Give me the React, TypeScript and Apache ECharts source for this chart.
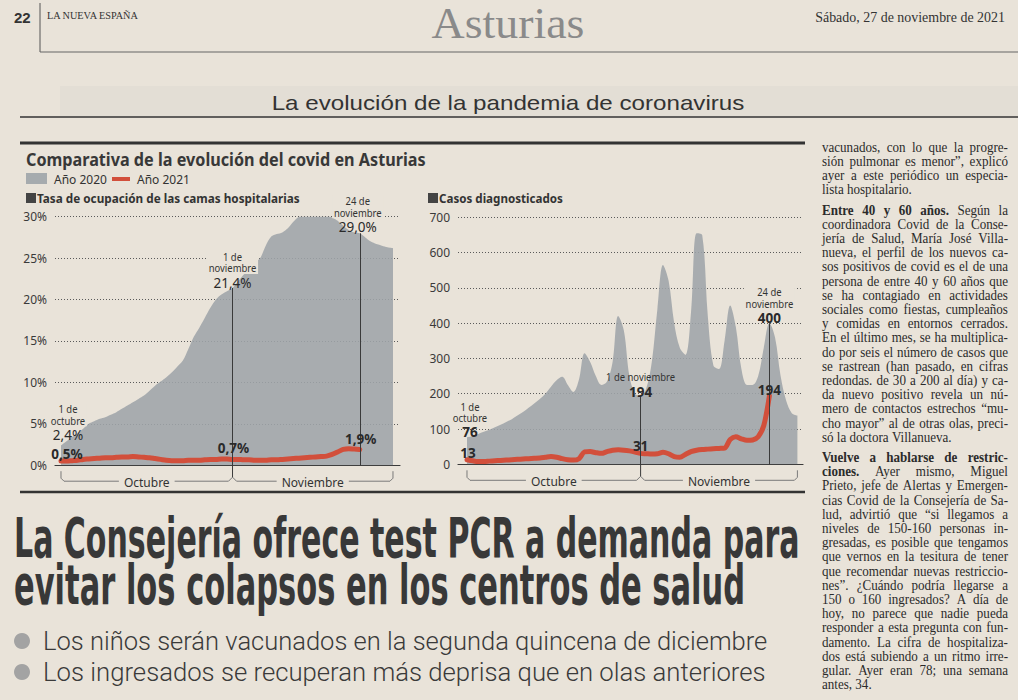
import React, { useEffect, useRef } from "react";
import * as echarts from "echarts";

// ---------------- DATA ----------------
// Hospital bed occupancy (%), daily from 1 Oct (index 0) — 2020
const hosp2020 = [
  2.4, 2.9, 3.4, 3.9, 4.4, 5.0, 5.3, 5.6, 5.8, 6.1,
  6.4, 6.8, 7.2, 7.6, 8.0, 8.4, 9.0, 9.6, 10.1, 10.6,
  11.2, 11.9, 12.6, 14.0, 15.5, 16.6, 17.8, 19.0, 20.0, 20.6,
  21.0, 21.4, 22.2, 23.0, 23.7, 24.4, 25.0, 26.5, 27.6, 27.9,
  28.1, 28.6, 29.4, 30.0, 30.3, 30.5, 30.5, 30.4, 30.2, 29.9,
  29.5, 28.9, 28.4, 28.1, 28.0, 27.5, 27.0, 26.7, 26.5, 26.3,
  26.2,
];
// Hospital bed occupancy (%) — 2021 (1 Oct – 24 Nov)
const hosp2021 = [
  0.5, 0.5, 0.55, 0.6, 0.7, 0.75, 0.8, 0.85, 0.9, 0.9,
  0.95, 1.0, 1.0, 1.05, 1.0, 0.95, 0.9, 0.8, 0.7, 0.6,
  0.55, 0.55, 0.55, 0.6, 0.6, 0.6, 0.65, 0.7, 0.7, 0.75,
  0.75, 0.7, 0.7, 0.65, 0.65, 0.6, 0.6, 0.6, 0.65, 0.65,
  0.7, 0.75, 0.8, 0.85, 0.9, 0.95, 1.0, 1.05, 1.1, 1.3,
  1.6, 1.9, 2.0, 1.95, 1.9,
];
// Diagnosed cases — 2020 (1 Oct – 29 Nov)
const cases2020 = [
  76, 80, 86, 92, 98, 105, 112, 120, 128, 138,
  148, 160, 172, 185, 200, 220, 238, 248, 225, 205,
  240, 315, 290, 250, 225, 235, 290, 420, 380, 250,
  200, 194, 215, 290, 440, 565, 520, 400, 330, 310,
  430, 655, 650, 420, 280, 270, 350, 450, 390, 270,
  225, 225, 250, 330, 400, 360, 250, 180, 145, 138,
];
// Diagnosed cases — 2021 (1 Oct – 24 Nov)
const cases2021 = [
  13, 10, 8, 8, 9, 10, 11, 12, 13, 14,
  15, 16, 17, 18, 20, 22, 20, 16, 13, 12,
  16, 35, 36, 33, 31, 36, 40, 41, 40, 38,
  35, 31, 30, 29, 30, 34, 30, 22, 20, 28,
  36, 40, 42, 43, 44, 45, 46, 70, 78, 72,
  68, 69, 78, 110, 194,
];
const monthNames = ["Octubre", "Noviembre"];
const monthStartIdx = [0, 31];
const legendNames = ["Año 2020", "Año 2021"];
const hospTicks = { min: 0, max: 30, step: 5 };
const caseTicks = { min: 0, max: 700, step: 100 };

const hospNotes = [
  { day: 0, head: "1 de\noctubre", v2020: "2,4%", v2021: "0,5%" },
  { day: 31, head: "1 de\nnoviembre", v2020: "21,4%", v2021: "0,7%" },
  { day: 54, head: "24 de\nnoviembre", v2020: "29,0%", v2021: "1,9%" },
];
const caseNotes = [
  { day: 0, head: "1 de\noctubre", v2020: "76", v2021: "13" },
  { day: 31, head: "1 de noviembre", v2020: "194", v2021: "31" },
  { day: 54, head: "24 de\nnoviembre", v2020: "400", v2021: "194" },
];

const pageTitle = "Asturias";
const paperName = "LA NUEVA ESPAÑA";
const pageNo = "22";
const pageDate = "Sábado, 27 de noviembre de 2021";
const sectionTitle = "La evolución de la pandemia de coronavirus";
const chartTitle = "Comparativa de la evolución del covid en Asturias";
const panelTitles = ["Tasa de ocupación de las camas hospitalarias", "Casos diagnosticados"];
const headline = [
  "La Consejería ofrece test PCR a demanda para",
  "evitar los colapsos en los centros de salud",
];
const bullets = [
  "Los niños serán vacunados en la segunda quincena de diciembre",
  "Los ingresados se recuperan más deprisa que en olas anteriores",
];
const columnParas = [
  [
    "vacunados, con lo que la progre-",
    "sión pulmonar es menor”, explicó",
    "ayer a este periódico un especia-",
    "lista hospitalario.",
  ],
  [
    "*Entre 40 y 60 años.* Según la",
    "coordinadora Covid de la Conse-",
    "jería de Salud, María José Villa-",
    "nueva, el perfil de los nuevos ca-",
    "sos positivos de covid es el de una",
    "persona de entre 40 y 60 años que",
    "se ha contagiado en actividades",
    "sociales como fiestas, cumpleaños",
    "y comidas en entornos cerrados.",
    "En el último mes, se ha multiplica-",
    "do por seis el número de casos que",
    "se rastrean (han pasado, en cifras",
    "redondas. de 30 a 200 al día) y ca-",
    "da nuevo positivo revela un nú-",
    "mero de contactos estrechos “mu-",
    "cho mayor” al de otras olas, preci-",
    "só la doctora Villanueva.",
  ],
  [
    "*Vuelve a hablarse de restric-*",
    "*ciones.* Ayer mismo, Miguel",
    "Prieto, jefe de Alertas y Emergen-",
    "cias Covid de la Consejería de Sa-",
    "lud, advirtió que “si llegamos a",
    "niveles de 150-160 personas in-",
    "gresadas, es posible que tengamos",
    "que vernos en la tesitura de tener",
    "que recomendar nuevas restriccio-",
    "nes”. ¿Cuándo podría llegarse a",
    "150 o 160 ingresados? A día de",
    "hoy, no parece que nadie pueda",
    "responder a esta pregunta con fun-",
    "damento. La cifra de hospitaliza-",
    "dos está subiendo a un ritmo irre-",
    "gular. Ayer eran 78; una semana",
    "antes, 34.",
  ],
];

// ---------------- STYLE ----------------
const PAGE = "#e9e3d9";
const AREA = "rgb(158,164,169)";
const RED = "#d24f3b";
const INK = "#2f2f2f";
const SANS = '"Noto Sans"';
const SERIF = '"Liberation Serif"';
const HEAD = '"DejaVu Sans"';
const ARIAL = '"Liberation Sans"';

const hospNoteLayout = [
  { dx: 7, dv: -10, bg: true, rdx: 6, rdy: -7 },
  { dx: 0, dv: -5, bg: true, rdx: 1, rdy: -11 },
  { dx: -2, dv: -6, bg: true, rdx: 1, rdy: -10 },
];
const caseNoteLayout = [
  { dx: 3, dv: -5, bg: true, rdx: 1, rdy: -7 },
  { dx: 0, dv: -4, bg: false, rdx: 0, rdy: -7 },
  { dx: 0, dv: -5, bg: true, rdx: 0, rdy: -6 },
];

let measureCtx: CanvasRenderingContext2D | null = null;
function measure(text: string, size: number, family: string, weight: string | number = "normal") {
  if (!measureCtx) measureCtx = document.createElement("canvas").getContext("2d");
  measureCtx!.font = `normal ${weight} ${size}px ${family}`;
  return measureCtx!.measureText(text).width;
}

type TO = {
  size: number; family?: string; weight?: string | number; color?: string;
  align?: string; vAlign?: string; sx?: number; sy?: number; bg?: string;
  lineHeight?: number; z?: number;
};
function txt(text: string, x: number, y: number, o: TO) {
  const align = o.align || "left";
  const vAlign = o.vAlign || "middle";
  const style: any = {
    text, x: 0, y: 0,
    fill: o.color || INK,
    fontSize: o.size,
    fontFamily: o.family || SANS,
    fontWeight: o.weight || "normal",
    align, textAlign: align,
    verticalAlign: vAlign, textVerticalAlign: vAlign,
  };
  if (o.lineHeight) style.lineHeight = o.lineHeight;
  if (o.bg) { style.backgroundColor = o.bg; style.padding = [0, 2]; }
  return { type: "text", x, y, scaleX: o.sx || 1, scaleY: o.sy || 1, z: o.z || 100, silent: true, style };
}
function fit(text: string, x: number, y: number, width: number, o: TO) {
  const w = measure(text, o.size, o.family || SANS, o.weight || "normal");
  return txt(text, x, y, { ...o, sx: width / w });
}
function hline(x1: number, x2: number, y: number, w: number, c: string) {
  return { type: "line", z: 100, silent: true, shape: { x1, y1: y, x2, y2: y }, style: { stroke: c, lineWidth: w } };
}
function vline(x: number, y1: number, y2: number, w: number, c: string) {
  return { type: "line", z: 100, silent: true, shape: { x1: x, y1, x2: x, y2 }, style: { stroke: c, lineWidth: w } };
}

function parseLine(line: string) {
  const out: { w: string; b: boolean }[] = [];
  let bold = false;
  line.split(" ").forEach((tok) => {
    let w = tok;
    let b = bold;
    if (w.startsWith("*")) { w = w.slice(1); b = true; bold = true; }
    if (w.endsWith("*")) { w = w.slice(0, -1); bold = false; }
    out.push({ w, b });
  });
  return out;
}

function buildOption() {
  const markLine = (data: number[], days: number[]) => ({
    silent: true,
    symbol: ["none", "none"],
    label: { show: false },
    lineStyle: { color: "#3a3a3a", width: 1, type: "solid" },
    data: days.map((d) => [{ coord: [d, data[d]] }, { coord: [d, 0] }]),
  });
  const yAxisBase = {
    type: "value",
    axisLine: { show: false },
    axisTick: { show: false },
    splitLine: { lineStyle: { type: [1, 2], color: "#5a5a5a", width: 1 } },
  };
  const xAxisBase = {
    type: "value",
    axisLine: { show: true, lineStyle: { color: "#3a3a3a", width: 1.2 } },
    axisTick: { show: false },
    axisLabel: { show: false },
    splitLine: { show: false },
  };
  return {
    animation: false,
    backgroundColor: PAGE,
    textStyle: { fontFamily: SANS },
    grid: [
      { left: 55, top: 216.7, width: 345, height: 248.5 },
      { left: 458, top: 217.3, width: 345, height: 247 },
    ],
    xAxis: [
      { ...xAxisBase, gridIndex: 0, min: -1.084, max: 61.27 },
      { ...xAxisBase, gridIndex: 1, min: -1.607, max: 60.0 },
    ],
    yAxis: [
      {
        ...yAxisBase, gridIndex: 0, min: hospTicks.min, max: hospTicks.max, interval: hospTicks.step,
        axisLabel: { formatter: "{value}%", color: "#3a3a3a", fontSize: 12, margin: 8, fontFamily: SANS },
      },
      {
        ...yAxisBase, gridIndex: 1, min: caseTicks.min, max: caseTicks.max, interval: caseTicks.step,
        axisLabel: { color: "#3a3a3a", fontSize: 12, margin: 8, fontFamily: SANS },
      },
    ],
    series: [
      {
        name: legendNames[0], type: "line", xAxisIndex: 0, yAxisIndex: 0, z: 2,
        data: hosp2020.map((v, i) => [i, v]), smooth: 0.3, symbol: "none",
        lineStyle: { width: 0 }, areaStyle: { color: AREA, opacity: 0.88 },
        markLine: markLine(hosp2020, hospNotes.slice(1).map((n) => n.day)),
      },
      {
        name: legendNames[1], type: "line", xAxisIndex: 0, yAxisIndex: 0, z: 4,
        data: hosp2021.map((v, i) => [i, v]), smooth: 0.3, symbol: "none",
        lineStyle: { width: 5, color: RED, cap: "round" },
      },
      {
        name: legendNames[0], type: "line", xAxisIndex: 1, yAxisIndex: 1, z: 2,
        data: cases2020.map((v, i) => [i, v]), smooth: 0.35, symbol: "none",
        lineStyle: { width: 0 }, areaStyle: { color: AREA, opacity: 0.88 },
        markLine: markLine(cases2020, caseNotes.slice(1).map((n) => n.day)),
      },
      {
        name: legendNames[1], type: "line", xAxisIndex: 1, yAxisIndex: 1, z: 4,
        data: cases2021.map((v, i) => [i, v]), smooth: 0.3, symbol: "none",
        lineStyle: { width: 5, color: RED, cap: "round" },
      },
    ],
  };
}

function buildGraphic(chart: any) {
  const els: any[] = [];
  const P = (gi: number, d: number, v: number) => chart.convertToPixel({ gridIndex: gi }, [d, v]) as number[];

  // ---- page header ----
  els.push(txt(pageNo, 14, 17, { size: 15, weight: "bold", family: ARIAL, color: "#333" }));
  els.push(vline(40, 3, 52, 1, "#555"));
  els.push(fit(paperName, 47, 16, 92, { size: 10, family: SERIF, color: "#333" }));
  els.push(fit(pageTitle, 508, 23, 153, { size: 44, family: SERIF, color: "#8a8a8a", align: "center" }));
  els.push(fit(pageDate, 1005, 17, 190, { size: 14, family: SERIF, align: "right", color: "#333" }));
  els.push(hline(40, 1018, 52, 1.2, "#666"));
  els.push({ type: "rect", z: 1, silent: true, shape: { x: 60, y: 86, width: 958, height: 30 }, style: { fill: "#e3ded5" } });
  els.push(fit(sectionTitle, 508, 103, 473, { size: 21, family: ARIAL, align: "center", color: "#333" }));
  els.push(hline(20, 1018, 117, 1.5, "#333"));

  // ---- chart frame & titles ----
  els.push(hline(20, 805, 143, 3, "#333"));
  els.push(fit(chartTitle, 26, 159, 400, { size: 17, weight: "bold", family: SANS, color: "#383838" }));
  els.push({ type: "rect", z: 100, silent: true, shape: { x: 26, y: 173, width: 21, height: 11 }, style: { fill: AREA, opacity: 0.9 } });
  els.push(txt(legendNames[0], 54, 179, { size: 12, color: "#333" }));
  els.push(hline(112, 130, 179, 4, RED));
  els.push(txt(legendNames[1], 137, 179, { size: 12, color: "#333" }));
  const panelX = [26, 428];
  const panelW = [263, 124];
  panelTitles.forEach((t, i) => {
    els.push({ type: "rect", z: 100, silent: true, shape: { x: panelX[i], y: 193, width: 10, height: 10 }, style: { fill: "#444" } });
    els.push(fit(t, panelX[i] + 11, 198, panelW[i], { size: 13, weight: "bold", family: SANS, color: "#333" }));
  });
  els.push(hline(20, 805, 492, 2.5, "#333"));

  // ---- annotations ----
  const addNotes = (gi: number, notes: any[], lay: any[], s20: number[], s21: number[], valW: string) => {
    notes.forEach((n, k) => {
      const L = lay[k];
      const [px, py] = P(gi, n.day, s20[n.day]);
      const vy = py + L.dv;
      els.push(txt(n.v2020, px + L.dx, vy, { size: 13.5, weight: valW, align: "center", color: "#2a2a2a" }));
      els.push(txt(n.head, px + L.dx, vy - 9, {
        size: 11, align: "center", vAlign: "bottom", lineHeight: 11.5, color: "#333", sx: 0.86,
        bg: L.bg ? PAGE : undefined,
      }));
      const [qx, qy] = P(gi, n.day, s21[n.day]);
      els.push(txt(n.v2021, qx + L.rdx, qy + L.rdy, { size: 13.5, weight: "bold", align: "center", color: "#2a2a2a" }));
    });
  };
  addNotes(0, hospNotes, hospNoteLayout, hosp2020, hosp2021, "normal");
  addNotes(1, caseNotes, caseNoteLayout, cases2020, cases2021, "bold");

  // ---- month brackets ----
  const bracket = (gi: number, lastIdx: number) => {
    const y0 = P(gi, 0, 0)[1];
    const xs = [...monthStartIdx.map((d) => P(gi, d, 0)[0]), P(gi, lastIdx, 0)[0]];
    const yb = y0 + 16;
    const c = "#7a7a7a";
    monthNames.forEach((m, i) => {
      const a = xs[i], b = xs[i + 1];
      const cx = (a + b) / 2;
      const tw = measure(m, 12, SANS);
      const tl = cx - tw / 2 - 5, tr = cx + tw / 2 + 5;
      const leftPts = i === 0
        ? [[a, y0 + 6], [a, yb - 3], [a + 3, yb], [tl, yb]]
        : [[a, yb - 4], [a + 4, yb], [tl, yb]];
      const rightPts = i === monthNames.length - 1
        ? [[tr, yb], [b - 3, yb], [b, yb - 3], [b, y0 + 6]]
        : [[tr, yb], [b - 4, yb], [b, yb - 4]];
      els.push({ type: "polyline", z: 100, silent: true, shape: { points: leftPts }, style: { stroke: c, lineWidth: 1, fill: "none" } });
      els.push({ type: "polyline", z: 100, silent: true, shape: { points: rightPts }, style: { stroke: c, lineWidth: 1, fill: "none" } });
      els.push(txt(m, cx, yb + 1, { size: 12, align: "center", color: "#333" }));
      if (i > 0) els.push(vline(a, y0, yb - 4, 1, "#3a3a3a"));
    });
  };
  bracket(0, hosp2020.length - 1);
  bracket(1, cases2020.length - 1);

  // ---- headline ----
  els.push(fit(headline[0], 14, 538, 786, { size: 55, weight: "bold", family: HEAD, color: "#383838" }));
  els.push(fit(headline[1], 14, 585, 731, { size: 55, weight: "bold", family: HEAD, color: "#383838" }));
  // ---- bullets ----
  const bulletY = [641, 672];
  const bulletW = [725, 723];
  bullets.forEach((b, i) => {
    els.push({ type: "circle", z: 100, silent: true, shape: { cx: 22, cy: bulletY[i], r: 8 }, style: { fill: "#a3a3a3" } });
    els.push(fit(b, 43, bulletY[i], bulletW[i], { size: 26, family: '"Roboto"', weight: 300, color: "#3a3a3a" }));
  });

  // ---- right column (justified) ----
  const COL_X = 822, COL_W = 186, LINE_H = 14.2, PARA_GAP = 6, COL_SIZE = 14.5;
  let y = 147;
  columnParas.forEach((lines) => {
    lines.forEach((line, li) => {
      const last = li === lines.length - 1;
      const toks = parseLine(line);
      const ws = toks.map((t) => measure(t.w, COL_SIZE, SERIF, t.b ? "bold" : "normal"));
      const sum = ws.reduce((a, b) => a + b, 0);
      const space = measure(" ", COL_SIZE, SERIF);
      let sx = 0.9;
      let gap: number;
      if (last || toks.length < 2) {
        gap = space * sx;
      } else {
        gap = (COL_W - sum * sx) / (toks.length - 1);
        if (gap < 1.8) { gap = 1.8; sx = (COL_W - gap * (toks.length - 1)) / sum; }
      }
      let x = COL_X;
      toks.forEach((t, i) => {
        els.push(txt(t.w, x, y, { size: COL_SIZE, family: SERIF, weight: t.b ? "bold" : "normal", sx, color: "#2b2b2b" }));
        x += ws[i] * sx + gap;
      });
      y += LINE_H;
    });
    y += PARA_GAP;
  });
  return els;
}

export default function App() {
  const ref = useRef<HTMLDivElement>(null);
  useEffect(() => {
    document.body.style.margin = "0";
    document.body.style.background = PAGE;
    const chart = echarts.init(ref.current!, null, { renderer: "svg", width: 1018, height: 700 });
    chart.setOption(buildOption() as any);
    chart.setOption({ graphic: buildGraphic(chart) } as any);
    return () => chart.dispose();
  }, []);
  return <div ref={ref} style={{ width: 1018, height: 700 }} />;
}
